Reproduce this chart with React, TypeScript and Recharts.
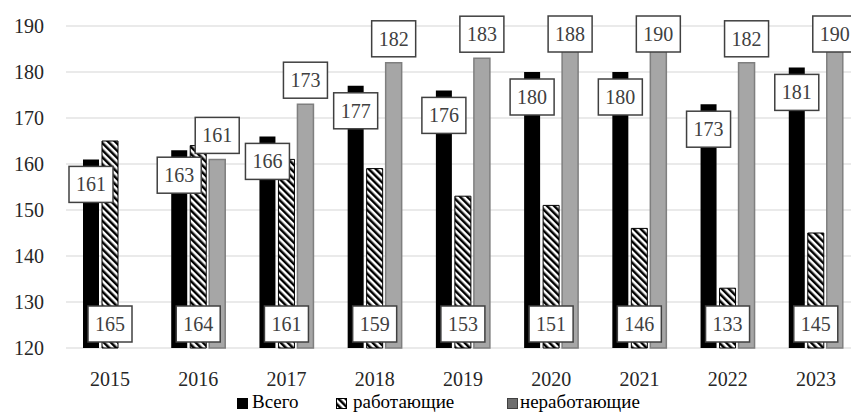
import { BarChart, Bar, XAxis, YAxis, CartesianGrid, LabelList, Legend } from "recharts";

const years = ["2015", "2016", "2017", "2018", "2019", "2020", "2021", "2022", "2023"];
const total = [161, 163, 166, 177, 176, 180, 180, 173, 181];
const working = [165, 164, 161, 159, 153, 151, 146, 133, 145];
const nonWorking = [null, 161, 173, 182, 183, 188, 190, 182, 190];
const yTicks = [120, 130, 140, 150, 160, 170, 180, 190];

const data = years.map((year, i) => ({
  year,
  total: total[i],
  working: working[i],
  nonWorking: nonWorking[i],
}));

const FONT = "Liberation Serif";
const BOX_W = 44;
const BOX_H = 36;

function Box({ cx, top, value }: { cx: number; top: number; value: any }) {
  return (
    <g>
      <rect x={cx - BOX_W / 2} y={top} width={BOX_W} height={BOX_H} fill="#fff" stroke="#404040" strokeWidth={1.5} />
      <text
        x={cx}
        y={top + BOX_H / 2}
        dy="0.35em"
        textAnchor="middle"
        style={{ fontFamily: FONT, fontSize: 20 }}
        fill="#404040"
      >
        {value}
      </text>
    </g>
  );
}

// Всего: box just under the bar top
const totalLabel = (p: any) => {
  if (p.value == null) return null;
  const cx = Number(p.x) + Number(p.width) / 2;
  return <Box cx={cx} top={Number(p.y) + 7} value={p.value} />;
};

// работающие: box sits at the bottom of the plot
const workingLabel = (p: any) => {
  if (p.value == null) return null;
  const cx = Number(p.x) + Number(p.width) / 2;
  const bottom = Number(p.y) + Number(p.height);
  return <Box cx={cx} top={bottom - 6 - BOX_H} value={p.value} />;
};

// неработающие: box above the bar, kept inside the chart
const nonWorkingLabel = (p: any) => {
  if (p.value == null) return null;
  const cx = Number(p.x) + Number(p.width) / 2;
  return <Box cx={cx} top={Math.max(16, Number(p.y) - 6 - BOX_H)} value={p.value} />;
};

const legendItems = [
  { name: "Всего", icon: 237, text: 252, fill: "#000", stroke: "#000" },
  { name: "работающие", icon: 336, text: 353, fill: "url(#hatch)", stroke: "#000" },
  { name: "неработающие", icon: 507, text: 520, fill: "#6e6e6e", stroke: "#404040" },
];

const renderLegend = () => (
  <div style={{ position: "relative", width: 851, height: 20, fontFamily: FONT, fontSize: 19, color: "#000" }}>
    {legendItems.map((it) => (
      <span key={it.name}>
        <svg width={11} height={11} style={{ position: "absolute", left: it.icon, top: 6 }}>
          <rect x={0.5} y={0.5} width={10} height={10} fill={it.fill} stroke={it.stroke} strokeWidth={1} />
        </svg>
        <span style={{ position: "absolute", left: it.text, top: 0, lineHeight: "20px", whiteSpace: "nowrap" }}>
          {it.name}
        </span>
      </span>
    ))}
  </div>
);

const tickStyle = { fontSize: 20, fontFamily: FONT, fill: "#262626" };

export default function App() {
  return (
    <div style={{ position: "absolute", left: 0, top: 0, width: 851, height: 413, overflow: "hidden", background: "#fff" }}>
      <BarChart
        width={870}
        height={413}
        data={data}
        margin={{ top: 26, right: 10, left: 0, bottom: 35 }}
        barSize={16}
        barGap={3}
      >
        <defs>
          <pattern id="hatch" width="5" height="5" patternUnits="userSpaceOnUse" patternTransform="rotate(-45)">
            <rect width="5" height="5" fill="#fff" />
            <rect width="2.5" height="5" fill="#000" />
          </pattern>
        </defs>
        <CartesianGrid vertical={false} stroke="#e3e3e3" strokeWidth={1.5} />
        <XAxis
          dataKey="year"
          axisLine={false}
          tickLine={false}
          height={30}
          tickSize={0}
          tickMargin={24}
          tick={tickStyle}
        />
        <YAxis
          domain={[120, 190]}
          ticks={yTicks}
          width={66}
          axisLine={false}
          tickLine={false}
          tickSize={0}
          tickMargin={22}
          tick={tickStyle}
        />
        <Legend
          layout="horizontal"
          verticalAlign="middle"
          align="center"
          content={renderLegend}
          wrapperStyle={{ left: 0, top: 392, width: 851 }}
        />
        <Bar dataKey="total" name="Всего" fill="#000" isAnimationActive={false}>
          <LabelList dataKey="total" content={totalLabel} />
        </Bar>
        <Bar dataKey="working" name="работающие" fill="url(#hatch)" stroke="#000" strokeWidth={1} isAnimationActive={false}>
          <LabelList dataKey="working" content={workingLabel} />
        </Bar>
        <Bar dataKey="nonWorking" name="неработающие" fill="#a6a6a6" stroke="#7f7f7f" strokeWidth={1.5} isAnimationActive={false}>
          <LabelList dataKey="nonWorking" content={nonWorkingLabel} />
        </Bar>
      </BarChart>
    </div>
  );
}
